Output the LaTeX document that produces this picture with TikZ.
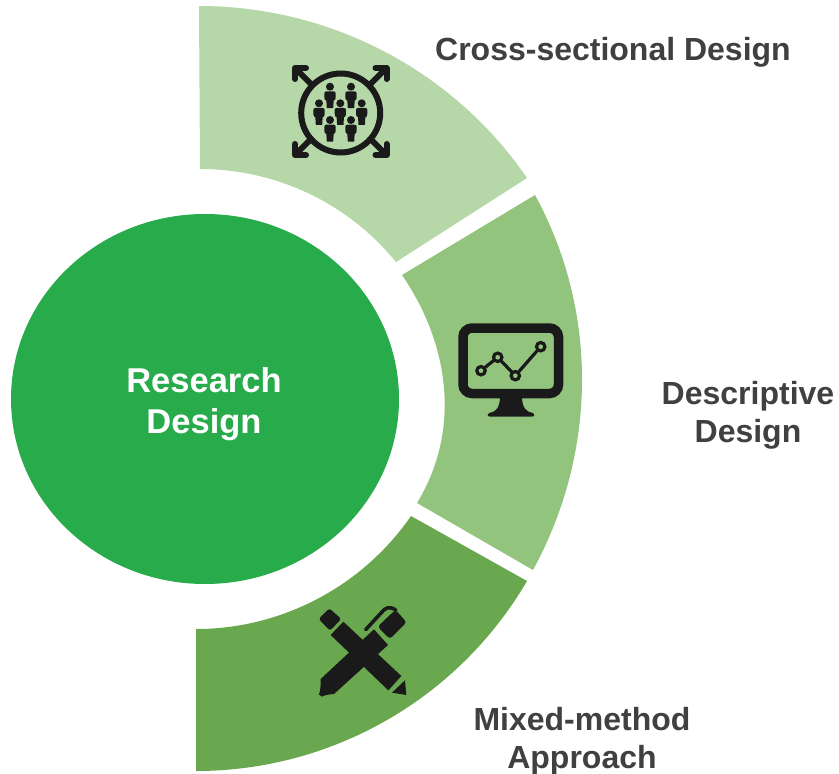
\documentclass[tikz,border=0pt]{standalone}
\usepackage{fontspec}
\usetikzlibrary{shapes.geometric}
\setmainfont{Liberation Sans}
\definecolor{segA}{HTML}{B6D7A8}
\definecolor{segB}{HTML}{93C47D}
\definecolor{segC}{HTML}{6AA84F}
\definecolor{hub}{HTML}{27AB4B}
\definecolor{ink}{HTML}{1A1A1A}
\definecolor{lab}{HTML}{404040}
\tikzset{
  lbl/.style={font=\fontsize{32}{38}\selectfont\bfseries,text=lab,align=center,inner sep=0pt},
  hublbl/.style={font=\fontsize{34.5}{41}\selectfont\bfseries,text=white,align=center,inner sep=0pt},
  person/.pic={
    \fill[ink] (0,0) circle (4);
    \fill[ink,rounded corners=2.2] (-5.8,4.6) -- (5.8,4.6) -- (5.4,14) -- (-5.4,14) -- cycle;
    \fill[ink] (-3.9,10) -- (3.9,10) -- (3.2,21.5) -- (-3.2,21.5) -- cycle;
  }
}
\begin{document}
\begin{tikzpicture}[x=1pt,y=-1pt]
\useasboundingbox (0,0) rectangle (839,774);
% segments
\fill[segA] (199,6) .. controls (330,6) and (453,70) .. (527,178) -- (396,262) .. controls (348,203) and (276,169) .. (200,169) -- cycle;
\fill[segB] (535,195) .. controls (599,312) and (597,453) .. (533,570) -- (417,503) .. controls (461,431) and (450,345) .. (402,275) -- cycle;
\fill[segC] (527,581) .. controls (458,699) and (332,771) .. (196,771) -- (196,629) .. controls (281,629) and (362,587) .. (411,516) -- cycle;
% hub
\node[ellipse,fill=hub,minimum width=388pt,minimum height=370pt,inner sep=0pt] (hubshape) at (205,399) {};
\node[hublbl] (hubtext) at (204,404) {Research\\Design};
% labels
\node[lbl] (cross) at (613,52) {Cross-sectional Design};
\node[lbl] (desc) at (748,415) {Descriptive\\Design};
\node[lbl] (mixed) at (582,741) {Mixed-method\\Approach};
% icon: people
\draw[ink,line width=6] (340.7,113) circle (39.5);
\foreach \a/\b/\c/\d in {292/65/1/1,389.5/65/-1/1,292/158/1/-1,389.5/158/-1/-1}{
  \draw[ink,line width=6] (\a+3*\c,\b+3*\d) -- (\a+21*\c,\b+21*\d);
  \draw[ink,line width=6,line join=round,line cap=round] (\a+3*\c,\b+14*\d) -- (\a+3*\c,\b+3*\d) -- (\a+14*\c,\b+3*\d);
}
\foreach \px/\py in {330/86.7,351/86.7,319/103.3,340.3/103.3,361.7/103.3,330/120,351/120}{
  \pic at (\px,\py) {person};
}
% icon: monitor
\draw[ink,line width=9.5,rounded corners=9] (463,328) rectangle (558.5,393.5);
\fill[ink] (500,396) -- (522,396) .. controls (522,408) and (526,412) .. (533,413) .. controls (535,414) and (535,416.5) .. (532,416.5) -- (490,416.5) .. controls (487,416.5) and (487,414) .. (489,413) .. controls (496,412) and (500,408) .. (500,396) -- cycle;
\draw[ink,line width=3.2] (481,370.7) -- (497.7,357.3) -- (515.3,375.7) -- (540.7,346.7);
\foreach \px/\py in {481/370.7,497.7/357.3,515.3/375.7,540.7/346.7}{
  \draw[ink,line width=3.2,fill=segB] (\px,\py) circle (4.2);
}
% icon: pencils
\begin{scope}[shift={(300,595)},x=0.3333pt,y=-0.3333pt]
\fill[ink,rounded corners=2.5] (56,72) -- (88,40) -- (124,72) -- (90,107) -- cycle;
\fill[ink] (92,120) -- (130,80) -- (304,243) -- (265,286) -- cycle;
\fill[ink] (276,293) -- (315,256) -- (319,300) -- cycle;
\fill[ink] (62,252) -- (222,103) -- (264,150) -- (102,297) .. controls (87,298) and (74,300) .. (66,305) -- (57,299) .. controls (62,285) and (62,270) .. (62,252) -- cycle;
\fill[ink,rounded corners=3] (233,95) -- (278,52) -- (288,46) -- (320,82) -- (270,132) -- cycle;
\draw[ink,line width=3.6,line cap=round] (197,104) -- (245,52) .. controls (255,38) and (270,32) .. (288,46);
\end{scope}
\end{tikzpicture}
\end{document}
